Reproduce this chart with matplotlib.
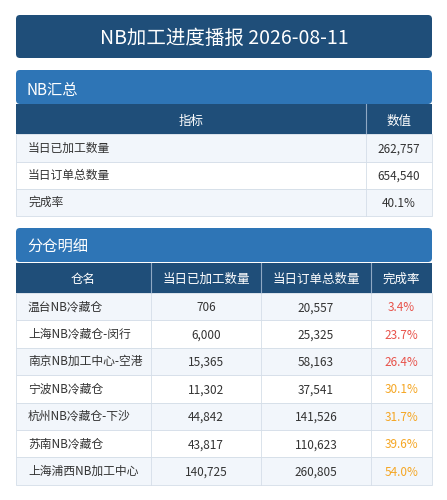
import matplotlib
matplotlib.use("Agg")
import matplotlib.pyplot as plt
from matplotlib.patches import Rectangle, FancyBboxPatch

plt.rcParams['font.family'] = ['Noto Sans CJK SC', 'DejaVu Sans']

title = "NB加工进度播报 2026-08-11"
summary_labels = ["当日已加工数量", "当日订单总数量", "完成率"]
summary_values = ["262,757", "654,540", "40.1%"]
detail_headers = ["仓名", "当日已加工数量", "当日订单总数量", "完成率"]
warehouses = ["温台NB冷藏仓", "上海NB冷藏仓-闵行", "南京NB加工中心-空港", "宁波NB冷藏仓",
              "杭州NB冷藏仓-下沙", "苏南NB冷藏仓", "上海浦西NB加工中心"]
processed = [706, 6000, 15365, 11302, 44842, 43817, 140725]
ordered = [20557, 25325, 58163, 37541, 141526, 110623, 260805]
rates = [3.4, 23.7, 26.4, 30.1, 31.7, 39.6, 54.0]

DARK = "#1F4E79"; MID = "#2E75B6"; ALT = "#F2F6FB"; TXT = "#333333"; GRID = "#D5DEE8"

fig = plt.figure(figsize=(4.47, 5.0), dpi=100)
ax = fig.add_axes([0, 0, 1, 1])
ax.set_xlim(0, 447); ax.set_ylim(500, 0); ax.axis("off")

def rect(x0, y0, x1, y1, fc, ec="none", lw=0):
    ax.add_patch(Rectangle((x0, y0), x1 - x0, y1 - y0, facecolor=fc, edgecolor=ec, linewidth=lw))

L, R = 16, 432
ax.add_patch(FancyBboxPatch((L, 15), R - L, 43, boxstyle="round,pad=0,rounding_size=4", fc=DARK, ec="none"))
ax.text((L + R) / 2, 38, title, color="white", fontsize=14, ha="center", va="center")

# Summary section
ax.add_patch(FancyBboxPatch((L, 70), R - L, 34, boxstyle="round,pad=0,rounding_size=4", fc=MID, ec="none"))
ax.text(27, 90, "NB汇总", color="white", fontsize=11, va="center")
rect(L, 104, R, 134, DARK)
ax.plot([366, 366], [104, 134], color="#8FA9C4", lw=0.8)
ax.text(191, 121, "指标", color="white", fontsize=9, ha="center", va="center")
ax.text(399, 121, "数值", color="white", fontsize=9, ha="center", va="center")
ys = [134, 162, 189, 216]
for i, (lab, val) in enumerate(zip(summary_labels, summary_values)):
    rect(L, ys[i], R, ys[i + 1], ALT if i % 2 == 0 else "white", ec=GRID, lw=0.6)
    ax.plot([366, 366], [ys[i], ys[i + 1]], color=GRID, lw=0.6)
    yc = (ys[i] + ys[i + 1]) / 2
    ax.text(28, yc, lab, color=TXT, fontsize=8.5, va="center")
    ax.text(399, yc + 1, val, color=TXT, fontsize=8.5, ha="center", va="center")

# Detail section
ax.add_patch(FancyBboxPatch((L, 228), R - L, 34, boxstyle="round,pad=0,rounding_size=4", fc=MID, ec="none"))
ax.text(27, 247, "分仓明细", color="white", fontsize=11, va="center")
cols = [L, 151, 261, 371, R]
rect(L, 263, R, 293, DARK)
for c in cols[1:-1]:
    ax.plot([c, c], [263, 293], color="#8FA9C4", lw=0.8)
for j, h in enumerate(detail_headers):
    ax.text((cols[j] + cols[j + 1]) / 2, 279, h, color="white", fontsize=9, ha="center", va="center")
y0, rh = 293, 27.4
for i in range(len(warehouses)):
    ya, yb = y0 + i * rh, y0 + (i + 1) * rh
    rect(L, ya, R, yb, ALT if i % 2 == 0 else "white", ec=GRID, lw=0.6)
    for c in cols[1:-1]:
        ax.plot([c, c], [ya, yb], color=GRID, lw=0.6)
    yc = (ya + yb) / 2
    ax.text(28, yc, warehouses[i], color=TXT, fontsize=8.5, va="center")
    ax.text((cols[1] + cols[2]) / 2, yc + 1, f"{processed[i]:,}", color=TXT, fontsize=8.5, ha="center", va="center")
    ax.text((cols[2] + cols[3]) / 2, yc + 1, f"{ordered[i]:,}", color=TXT, fontsize=8.5, ha="center", va="center")
    rc = "#E8524A" if rates[i] < 30 else "#F5A623"
    ax.text((cols[3] + cols[4]) / 2, yc + 1, f"{rates[i]:.1f}%", color=rc, fontsize=8.5, ha="center", va="center")

fig.savefig("out.png", dpi=100, facecolor="white")
